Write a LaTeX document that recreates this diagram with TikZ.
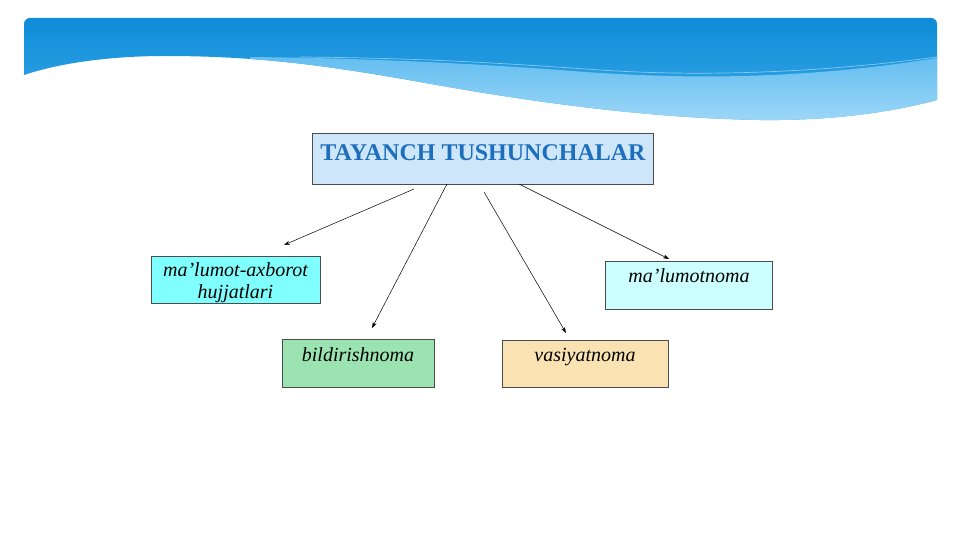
\documentclass[tikz,border=0pt]{standalone}
\usepackage{fontspec}
\setmainfont{Liberation Serif}
\usetikzlibrary{arrows.meta}
\definecolor{titleblue}{RGB}{30,110,190}
\definecolor{titlefill}{RGB}{206,230,250}
\definecolor{cyanfill}{RGB}{128,255,255}
\definecolor{lcyanfill}{RGB}{204,255,255}
\definecolor{greenfill}{RGB}{155,228,178}
\definecolor{tanfill}{RGB}{250,226,178}
\definecolor{bandtop}{RGB}{14,140,216}
\definecolor{bandbot}{RGB}{60,170,232}
\definecolor{lighttop}{RGB}{100,190,240}
\definecolor{lightbot}{RGB}{165,218,248}
\tikzset{
  boxnode/.style={draw=black!70, line width=0.6pt, inner sep=0pt},
  itxt/.style={font=\fontsize{20}{22}\selectfont\itshape, text=black, inner sep=0pt},
  arr/.style={-{Stealth[length=6pt,width=4pt]}, line width=0.5pt, black}
}
\begin{document}
\begin{tikzpicture}[x=1pt,y=-1pt]
\useasboundingbox (0,0) rectangle (961,540);
% header banner
\begin{scope}
  \clip (24,75) .. controls (60,63) and (110,56) .. (165,56)
        .. controls (260,56) and (330,66) .. (420,82)
        .. controls (520,100) and (640,118) .. (760,120)
        .. controls (840,121) and (900,110) .. (937,100)
        [rounded corners=6pt] -- (937,18) -- (24,18) [sharp corners] -- cycle;
  \shade[top color=bandtop, bottom color=bandbot] (0,18) rectangle (961,125);
  \shade[top color=lighttop, bottom color=lightbot]
        (250,57) .. controls (350,58) and (450,62) .. (560,70)
        .. controls (680,80) and (800,80) .. (937,58)
        -- (937,130) -- (250,130) -- cycle;
  \draw[white, opacity=0.45, line width=0.7pt]
        (300,57) .. controls (420,58) and (500,63) .. (600,70)
        .. controls (720,78) and (840,70) .. (937,57);
\end{scope}
% boxes
\node[boxnode, fill=titlefill, minimum width=341pt, minimum height=51pt] (title) at (482.5,158.5) {};
\node[font=\fontsize{24}{27}\selectfont\bfseries, text=titleblue, inner sep=0pt, anchor=base] (titlet) at (483,161) {TAYANCH TUSHUNCHALAR};

\node[boxnode, fill=cyanfill, minimum width=169pt, minimum height=47pt] (mab) at (235.5,279.5) {};
\node[itxt, anchor=base] (mabt1) at (235.5,276) {ma’lumot-axborot};
\node[itxt, anchor=base] (mabt2) at (235.5,298) {hujjatlari};

\node[boxnode, fill=lcyanfill, minimum width=167pt, minimum height=48pt] (mn) at (688.5,285) {};
\node[itxt, anchor=base] (mnt) at (689,282) {ma’lumotnoma};

\node[boxnode, fill=greenfill, minimum width=152pt, minimum height=48pt] (bn) at (358,363) {};
\node[itxt, anchor=base] (bnt) at (358,361) {bildirishnoma};

\node[boxnode, fill=tanfill, minimum width=166pt, minimum height=47pt] (vn) at (585,363.5) {};
\node[itxt, anchor=base] (vnt) at (585,361) {vasiyatnoma};

% connectors
\coordinate (s1) at (414,189); \coordinate (e1) at (284,245);
\coordinate (s2) at (447,184); \coordinate (e2) at (372,328);
\coordinate (s3) at (484,192); \coordinate (e3) at (566,333);
\coordinate (s4) at (519,184); \coordinate (e4) at (669,259);
\draw[arr] (s1) -- (e1);
\draw[arr] (s2) -- (e2);
\draw[arr] (s3) -- (e3);
\draw[arr] (s4) -- (e4);
\end{tikzpicture}
\end{document}
